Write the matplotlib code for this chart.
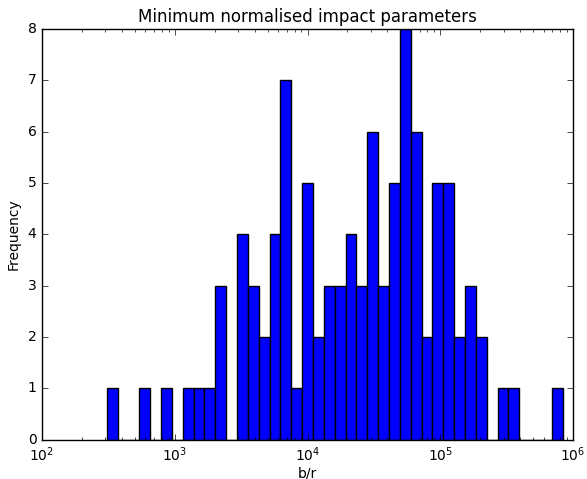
import numpy as np
import matplotlib
matplotlib.use('Agg')
import matplotlib.pyplot as plt

# histogram: 42 log-spaced bins, 100 samples
lo, hi = 307.0, 836000.0
counts = [1, 0, 0, 1, 0, 1, 0, 1, 1, 1, 3, 0,
          4, 3, 2, 4, 7, 1, 5, 2, 3, 3, 4, 3, 6, 3, 5, 8, 6, 2, 5, 5, 2, 3, 2,
          0, 1, 1, 0, 0, 0, 1]

edges = np.logspace(np.log10(lo), np.log10(hi), len(counts) + 1)
centres = np.sqrt(edges[:-1] * edges[1:])

plt.style.use('classic')
plt.rcParams['font.size'] = 10
plt.rcParams['mathtext.fontset'] = 'dejavusans'
fig = plt.figure(figsize=(5.87, 4.79), dpi=100)
ax = fig.add_axes([42 / 587, 1 - 439.5 / 479, 531 / 587, 410.5 / 479])

ax.hist(centres, bins=edges, weights=counts, facecolor='b', edgecolor='k')
ax.set_xscale('log')
ax.set_xlim(1e2, 1e6)
ax.set_ylim(0, 8)
ax.set_title('Minimum normalised impact parameters')
ax.set_xlabel('b/r', labelpad=2)
ax.set_ylabel('Frequency')

fig.savefig('out.png')
